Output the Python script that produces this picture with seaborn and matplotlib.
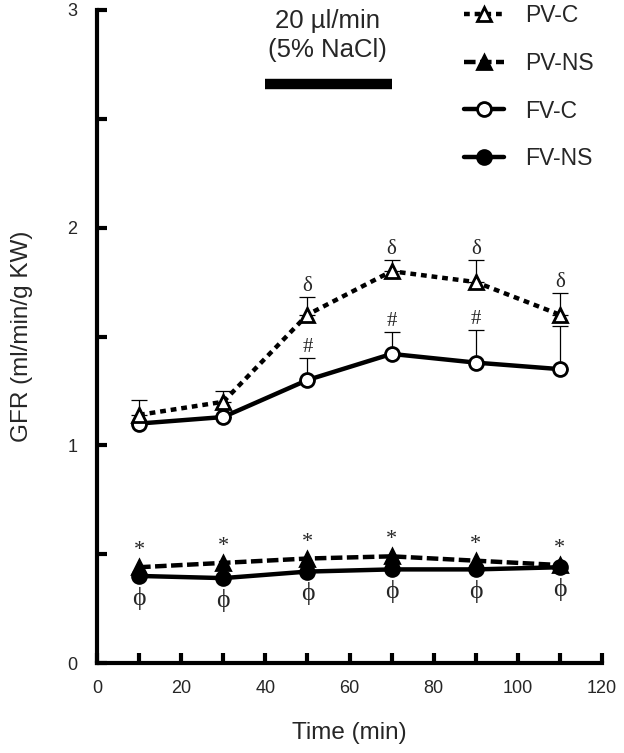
import numpy as np
import pandas as pd
import matplotlib
matplotlib.use("Agg")
import matplotlib.pyplot as plt
import seaborn as sns

# values
time_min = [10, 30, 50, 70, 90, 110]

pv_c = [1.14, 1.20, 1.60, 1.80, 1.75, 1.60]
pv_c_err = [0.07, 0.05, 0.08, 0.05, 0.10, 0.10]

fv_c = [1.10, 1.13, 1.30, 1.42, 1.38, 1.35]
fv_c_err = [0.0, 0.0, 0.10, 0.10, 0.15, 0.20]

pv_ns = [0.44, 0.46, 0.48, 0.49, 0.47, 0.45]
fv_ns = [0.40, 0.39, 0.42, 0.43, 0.43, 0.44]

delta_marks = [False, False, True, True, True, True]
hash_marks = [False, False, True, True, True, False]

infusion_start = 40
infusion_end = 70
infusion_level = 2.66

sns.set_style("ticks")
plt.rcParams['font.family'] = ['Liberation Sans', 'DejaVu Sans']

fig = plt.figure(figsize=(6.24, 7.53), dpi=100)
ax = fig.add_axes([97 / 624, 90 / 753, 505 / 624, 653 / 753])

df = pd.DataFrame({
    'time': time_min,
    'PV-C': pv_c,
    'FV-C': fv_c,
    'PV-NS': pv_ns,
    'FV-NS': fv_ns,
})

# error bars (upper only) drawn first so that the markers cover them
zeros = np.zeros(len(time_min))
ax.errorbar(time_min, pv_c, yerr=[zeros, pv_c_err], fmt='none', ecolor='black',
            elinewidth=0.9, capsize=6, capthick=0.9, zorder=1)
ax.errorbar(time_min, fv_c, yerr=[zeros, fv_c_err], fmt='none', ecolor='black',
            elinewidth=0.9, capsize=6, capthick=0.9, zorder=1)

common = dict(ax=ax, color='black', markeredgecolor='black', markeredgewidth=2,
              linewidth=3.2, markersize=10)

sns.lineplot(data=df, x='time', y='PV-C', marker='^', markerfacecolor='white',
             linestyle=(0, (1.3, 1.1)), label='PV-C', zorder=3, **common)
sns.lineplot(data=df, x='time', y='PV-NS', marker='^', markerfacecolor='black',
             linestyle=(0, (2.6, 1.0)), label='PV-NS', zorder=3, **common)
sns.lineplot(data=df, x='time', y='FV-C', marker='o', markerfacecolor='white',
             linestyle='-', label='FV-C', zorder=2, **common)
sns.lineplot(data=df, x='time', y='FV-NS', marker='o', markerfacecolor='black',
             linestyle='-', label='FV-NS', zorder=2, **common)

# significance symbols
serif = ['Liberation Serif', 'DejaVu Serif']
for x, y, e, d in zip(time_min, pv_c, pv_c_err, delta_marks):
    if d:
        ax.annotate('δ', (x, y + e), xytext=(0, 1), textcoords='offset points',
                    ha='center', va='bottom', fontsize=15, family=serif)
for x, y, e, h in zip(time_min, fv_c, fv_c_err, hash_marks):
    if h:
        ax.annotate('#', (x, y + e), xytext=(0, 1), textcoords='offset points',
                    ha='center', va='bottom', fontsize=15, family=serif)
for x, y in zip(time_min, pv_ns):
    ax.annotate('*', (x, y), xytext=(0, 5), textcoords='offset points',
                ha='center', va='bottom', fontsize=16, family=serif)
for x, y in zip(time_min, fv_ns):
    ax.annotate('ϕ', (x, y), xytext=(0, -16), textcoords='offset points',
                ha='center', va='center', fontsize=18.5, family=serif)

# infusion bar
ax.plot([infusion_start, infusion_end], [infusion_level, infusion_level],
        color='black', linewidth=7.5, solid_capstyle='butt')
mid = (infusion_start + infusion_end) / 2 - 0.3
ax.text(mid, 2.95, '20 µl/min', ha='center', va='center', fontsize=18.5)
ax.text(mid, 2.815, '(5% NaCl)', ha='center', va='center', fontsize=18.5)

ax.set_xlim(0, 120)
ax.set_ylim(0, 3)
ax.set_xticks(range(0, 121, 20))
ax.set_xticks(range(10, 120, 20), minor=True)
ax.set_yticks([0, 1, 2, 3])
ax.set_yticks([0.5, 1.5, 2.5], minor=True)
ax.tick_params(which='both', direction='in', length=7, width=3, color='black',
               labelsize=13)
ax.tick_params(axis='y', pad=14)
ax.tick_params(axis='x', pad=12)

sns.despine(ax=ax)
for side in ['left', 'bottom']:
    ax.spines[side].set_linewidth(3)
    ax.spines[side].set_color('black')

ax.set_xlabel('Time (min)', fontsize=17.5, labelpad=18)
ax.set_ylabel('GFR (ml/min/g KW)', fontsize=17.5, labelpad=25)

ax.legend(loc='upper left', bbox_to_anchor=(464 / 624, 749 / 753),
          bbox_transform=fig.transFigure, frameon=False, fontsize=16.5,
          handlelength=1.75, handletextpad=0.9, labelspacing=1.08,
          borderpad=0, borderaxespad=0, numpoints=1)

fig.savefig('out.png', dpi=100)
